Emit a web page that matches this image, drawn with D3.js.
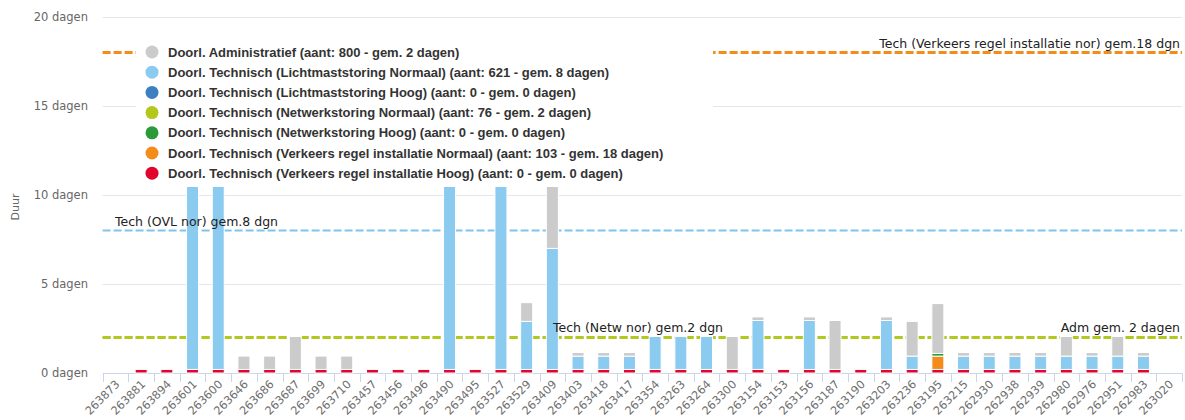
<!DOCTYPE html>
<html><head><meta charset="utf-8">
<script src="https://cdn.jsdelivr.net/npm/d3@7/dist/d3.min.js"></script>
<style>
body{margin:0;background:#fff;}
svg{display:block;}
</style></head>
<body><svg id="c" width="1185" height="420"></svg>
<script>
const categories = ["263873","263881","263894","263601","263600","263646","263686","263687","263699","263710","263457","263456","263496","263490","263495","263527","263529","263409","263403","263418","263417","263354","263263","263264","263300","263154","263153","263156","263187","263190","263203","263236","263195","263215","262930","262938","262939","262980","262976","262951","262983","263020"];

const admin        = [0,0,0,0,0,0.75,0.75,1.85,0.75,0.75,0,0,0,0,0,0,1.05,5,0.2,0.2,0.2,0,0,0,1.85,0.2,0,0.2,2.75,0,0.2,1.95,2.8,0.2,0.2,0.2,0.2,1.1,0.2,1.1,0.2,0];
const lichtNormaal = [0,0,0,12,12,0,0,0,0,0,0,0,0,12,0,12,2.7,6.8,0.75,0.75,0.75,1.85,1.85,1.85,0,2.75,0,2.75,0,0,2.75,0.75,0,0.75,0.75,0.75,0.75,0.75,0.75,0.75,0.75,0];
const lichtHoog    = [0,0,0,0,0,0,0,0,0,0,0,0,0,0,0,0,0,0,0,0,0,0,0,0,0,0,0,0,0,0,0,0,0,0,0,0,0,0,0,0,0,0];
const netwNormaal  = [0,0,0,0,0,0,0,0,0,0,0,0,0,0,0,0,0,0,0,0,0,0,0,0,0,0,0,0,0,0,0,0,0,0,0,0,0,0,0,0,0,0];
const netwHoog     = [0,0,0,0,0,0,0,0,0,0,0,0,0,0,0,0,0,0,0,0,0,0,0,0,0,0,0,0,0,0,0,0,0.15,0,0,0,0,0,0,0,0,0];
const vriNormaal   = [0,0,0,0,0,0,0,0,0,0,0,0,0,0,0,0,0,0,0,0,0,0,0,0,0,0,0,0,0,0,0,0,0.75,0,0,0,0,0,0,0,0,0];
const vriHoog      = [0,0.2,0.2,0.2,0.2,0.2,0.2,0.2,0.2,0.2,0.2,0.2,0.2,0.2,0.2,0.2,0.2,0.2,0.2,0.2,0.2,0.2,0.2,0.2,0.2,0.2,0.2,0.2,0.2,0.2,0.2,0.2,0.2,0.2,0.2,0.2,0.2,0.2,0.2,0.2,0.2,0];

const seriesNames = [
  "Doorl. Administratief (aant: 800 - gem. 2 dagen)",
  "Doorl. Technisch (Lichtmaststoring Normaal) (aant: 621 - gem. 8 dagen)",
  "Doorl. Technisch (Lichtmaststoring Hoog) (aant: 0 - gem. 0 dagen)",
  "Doorl. Technisch (Netwerkstoring Normaal) (aant: 76 - gem. 2 dagen)",
  "Doorl. Technisch (Netwerkstoring Hoog) (aant: 0 - gem. 0 dagen)",
  "Doorl. Technisch (Verkeers regel installatie Normaal) (aant: 103 - gem. 18 dagen)",
  "Doorl. Technisch (Verkeers regel installatie Hoog) (aant: 0 - gem. 0 dagen)"
];
const seriesColors = ["#cbcbcb","#8ccbf0","#3d7fc0","#b2c81c","#2b9b3a","#f48c1c","#e2062f"];
const seriesData = [admin, lichtNormaal, lichtHoog, netwNormaal, netwHoog, vriNormaal, vriHoog];

const yTicks = [0,5,10,15,20];
const yTickLabels = ["0 dagen","5 dagen","10 dagen","15 dagen","20 dagen"];

const refValues = [18, 8, 2, 2];
const refLabels = ["Tech (Verkeers regel installatie nor) gem.18 dgn","Tech (OVL nor) gem.8 dgn","Adm gem. 2 dagen","Tech (Netw nor) gem.2 dgn"];
const refColors = ["#f48c1c","#7fc4ee","#c8c8c8","#b2c81c"];

(function () {
// ---- layout
const pLeft = 102.6, pRight = 1182, pTop = 17, pBottom = 373;
const svg = d3.select("#c");

const x = d3.scaleBand().domain(categories).range([pLeft, pRight]).padding(0);
const y = d3.scaleLinear().domain([0, 20]).range([pBottom, pTop]);
const barW = 12;

// gridlines
const grid = svg.append("g");
grid.selectAll("line").data(yTicks.filter(d => d > 0)).join("line")
  .attr("x1", pLeft).attr("x2", pRight)
  .attr("y1", d => Math.round(y(d)) + 0.5).attr("y2", d => Math.round(y(d)) + 0.5)
  .attr("stroke", "#e6e6e6").attr("stroke-width", 1);

// y labels
const yAxis = d3.axisLeft(y).tickValues(yTicks).tickSize(0).tickPadding(0)
  .tickFormat((d, i) => yTickLabels[i]);
const ya = svg.append("g").attr("transform", `translate(88,0)`).call(yAxis);
ya.select(".domain").remove();
ya.selectAll("text").attr("font-family", "DejaVu Sans").attr("font-size", 11.5).attr("fill", "#666");

svg.append("text").attr("transform", `translate(19,207) rotate(-90)`)
  .attr("text-anchor", "middle").attr("font-family", "DejaVu Sans").attr("font-size", 11)
  .attr("fill", "#666").text("Duur");

// x axis line and ticks
const xg = svg.append("g");
xg.append("line").attr("x1", pLeft).attr("x2", pRight).attr("y1", pBottom + 0.5).attr("y2", pBottom + 0.5)
  .attr("stroke", "#ccd6eb");
const bounds = categories.map(c => x(c)).concat([pRight]);
xg.selectAll("line.tk").data(bounds).join("line").attr("class", "tk")
  .attr("x1", d => Math.round(d) + 0.5).attr("x2", d => Math.round(d) + 0.5)
  .attr("y1", pBottom).attr("y2", pBottom + 9).attr("stroke", "#ccd6eb");
xg.selectAll("text").data(categories).join("text")
  .attr("transform", d => `translate(${x(d) + x.bandwidth() / 2 + 5},${pBottom + 12}) rotate(-45)`)
  .attr("text-anchor", "end").attr("font-family", "DejaVu Sans").attr("font-size", 11.3)
  .attr("fill", "#6e6e6e").text(d => d);

// plot lines (drawn under bars)
const pl = svg.append("g");
[2, 3, 1, 0].forEach(i => {
  pl.append("line").attr("x1", pLeft).attr("x2", pRight)
    .attr("y1", y(refValues[i])).attr("y2", y(refValues[i]))
    .attr("stroke", refColors[i]).attr("stroke-width", i === 1 ? 2 : 3)
    .attr("stroke-dasharray", "8,3");
});

// stacked bars
const rows = categories.map((c, j) => {
  const o = { cat: c };
  seriesData.forEach((s, k) => o["s" + k] = s[j]);
  return o;
});
const keys = [6, 5, 4, 3, 2, 1, 0].map(k => "s" + k);
const stacked = d3.stack().keys(keys)(rows);
const bars = svg.append("g");
stacked.forEach(layer => {
  const k = +layer.key.slice(1);
  bars.append("g").selectAll("rect").data(layer.filter(d => d[1] - d[0] > 0)).join("rect")
    .attr("x", d => x(d.data.cat) + (x.bandwidth() - barW) / 2)
    .attr("width", barW)
    .attr("y", d => y(d[1]))
    .attr("height", d => y(d[0]) - y(d[1]))
    .attr("fill", seriesColors[k])
    .attr("stroke", "#fff").attr("stroke-width", 1);
});

// plot line labels
const lbl = svg.append("g").attr("font-family", "DejaVu Sans").attr("font-size", 12.5).attr("fill", "#222");
lbl.append("text").attr("x", 1180).attr("y", y(refValues[0]) - 5).attr("text-anchor", "end").text(refLabels[0]);
lbl.append("text").attr("x", 115).attr("y", y(refValues[1]) - 5).text(refLabels[1]);
lbl.append("text").attr("x", 1180).attr("y", y(refValues[2]) - 5).attr("text-anchor", "end").text(refLabels[2]);
lbl.append("text").attr("x", 553).attr("y", y(refValues[3]) - 5).text(refLabels[3]);

// legend (white box over plot)
const lg = svg.append("g");
lg.append("rect").attr("x", 136).attr("y", 36).attr("width", 577).attr("height", 151).attr("fill", "#fff");
seriesNames.forEach((n, i) => {
  const cy = 52 + i * 20.2;
  lg.append("circle").attr("cx", 152).attr("cy", cy).attr("r", 6.5).attr("fill", seriesColors[i]);
  lg.append("text").attr("x", 168).attr("y", cy + 4.5)
    .attr("font-family", "Liberation Sans, Arial, sans-serif").attr("font-weight", "bold")
    .attr("font-size", 13).attr("fill", "#333").text(n);
});
})();
</script></body></html>
